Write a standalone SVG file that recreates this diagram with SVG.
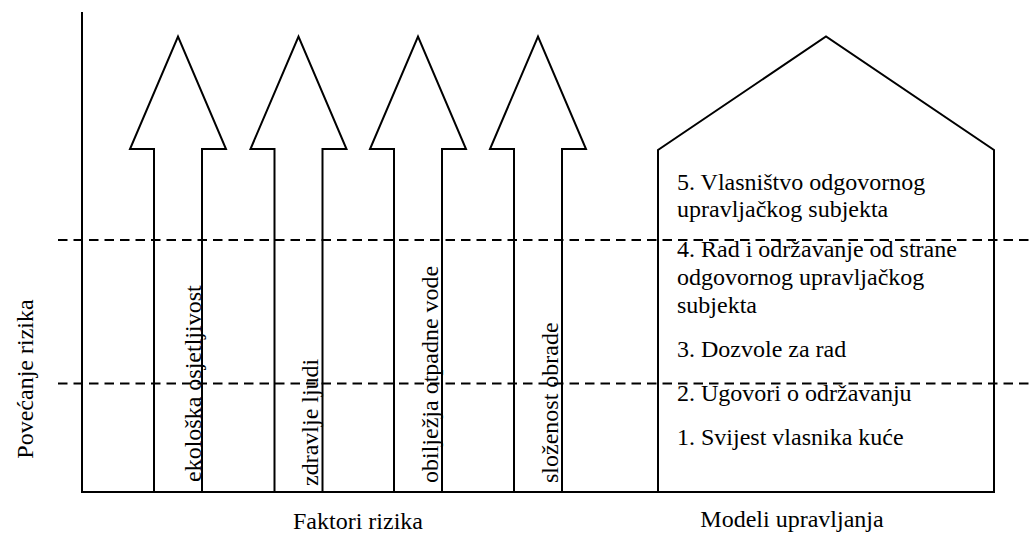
<svg xmlns="http://www.w3.org/2000/svg" width="1032" height="533" viewBox="0 0 1032 533">
<style>
.ln{fill:none;stroke:#000;stroke-width:2}
.shape{fill:#fff;stroke:#000;stroke-width:2;stroke-linejoin:miter}
.dash{fill:none;stroke:#000;stroke-width:2;stroke-dasharray:9.5 6}
.t{font-family:'Liberation Serif',serif;font-size:24px;fill:#000}
</style>
<rect width="1032" height="533" fill="#fff"/>
<g id="arrow-ekoloska">
<polygon class="shape" points="154,492 154,149 130,149 178,36.5 226,149 202,149 202,492"/>
</g>
<g id="arrow-zdravlje">
<polygon class="shape" points="274.5,492 274.5,149 250.5,149 298.5,36.5 346.5,149 322.5,149 322.5,492"/>
</g>
<g id="arrow-obiljezja">
<polygon class="shape" points="394,492 394,149 370,149 418,36.5 466,149 442,149 442,492"/>
</g>
<g id="arrow-slozenost">
<polygon class="shape" points="514,492 514,149 490,149 538,36.5 586,149 562,149 562,492"/>
</g>
<g id="house">
<polygon class="shape" points="658,492 658,150 826,36.5 994,150 994,492"/>
</g>
<g id="connectors">
<line class="ln" x1="82" y1="12" x2="82" y2="492"/>
<line class="ln" x1="81" y1="492" x2="995" y2="492"/>
<line class="dash" x1="58" y1="240" x2="1032" y2="240"/>
<line class="dash" x1="58" y1="383.5" x2="1032" y2="383.5"/>
</g>
<g id="labels" class="t" font-family="Liberation Serif, serif" font-size="24">
<text transform="translate(201,482) rotate(-90)">ekološka osjetljivost</text>
<text transform="translate(318,486) rotate(-90)">zdravlje ljudi</text>
<text transform="translate(437.5,483) rotate(-90)">obilježja otpadne vode</text>
<text transform="translate(557.5,483) rotate(-90)">složenost obrade</text>
<text transform="translate(33,379) rotate(-90)" text-anchor="middle">Povećanje rizika</text>
<text x="358" y="529" text-anchor="middle">Faktori rizika</text>
<text x="792" y="527" text-anchor="middle">Modeli upravljanja</text>
</g>
<g id="house-text" class="t" font-family="Liberation Serif, serif" font-size="24">
<text x="677" y="190">5. Vlasništvo odgovornog</text>
<text x="677" y="217">upravljačkog subjekta</text>
<text x="677" y="257">4. Rad i održavanje od strane</text>
<text x="677" y="285">odgovornog upravljačkog</text>
<text x="677" y="313">subjekta</text>
<text x="677" y="357">3. Dozvole za rad</text>
<text x="677" y="401">2. Ugovori o održavanju</text>
<text x="677" y="445">1. Svijest vlasnika kuće</text>
</g>
</svg>
